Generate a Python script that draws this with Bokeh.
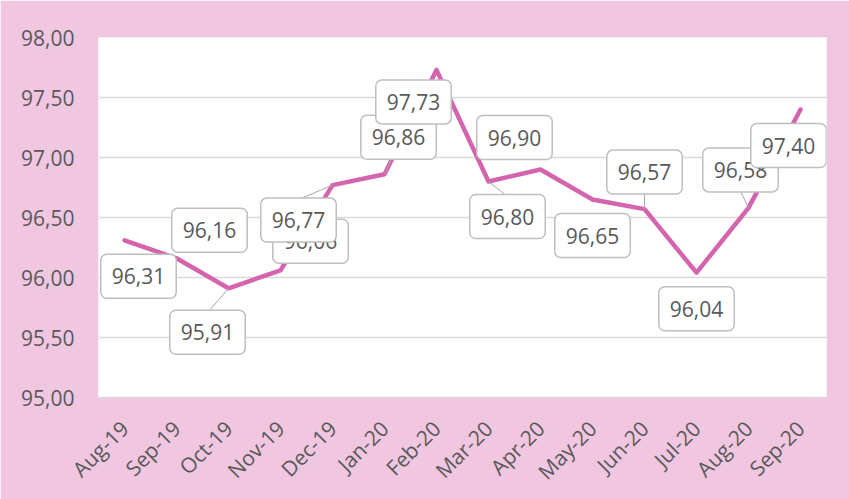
from bokeh.plotting import figure
from bokeh.models import (ColumnDataSource, Range1d, FixedTicker,
                          CustomJSTickFormatter)
from bokeh.embed import file_html
from bokeh.resources import INLINE
from bokeh.core.properties import value
import math

# ---- data ----
months = ["Aug-19", "Sep-19", "Oct-19", "Nov-19", "Dec-19", "Jan-20", "Feb-20",
          "Mar-20", "Apr-20", "May-20", "Jun-20", "Jul-20", "Aug-20", "Sep-20"]
values = [96.31, 96.16, 95.91, 96.06, 96.77, 96.86, 97.73,
          96.80, 96.90, 96.65, 96.57, 96.04, 96.58, 97.40]
y_ticks = [95.0, 95.5, 96.0, 96.5, 97.0, 97.5, 98.0]

# ---- label placement (screen px, +down) : style only ----
label_dx = [14, 33, -21, 30, -34, 14, -23, 19, -26, 0, 0, 0, -8, -12]
label_dy = [36, -28, 44, -29, 35, -37, 32, 35, -32, 36, -37, 36, -38, 36]
# leader lines: index -> (dx, dy) px end offsets
leaders = {2: (-19, 22), 4: (-33, 14), 5: (7, -16), 7: (19, 15), 10: (0, -16), 12: (-8, -17)}

W, H = 849, 499
ML, MR, MT, MB = 98, 23, 37, 102
x_lo, x_hi = -0.5, len(months) - 0.5
y_lo, y_hi = 95.0, 98.0
px_x = (W - ML - MR) / (x_hi - x_lo)
px_y = (H - MT - MB) / (y_hi - y_lo)

PINK = "#F0C6E0"
LINE = "#D564AE"
TXT = "#595959"

p = figure(width=W, height=H, output_backend="svg", toolbar_location=None,
           x_range=Range1d(x_lo, x_hi), y_range=Range1d(y_lo, y_hi),
           min_border_left=ML, min_border_right=MR, min_border_top=MT,
           min_border_bottom=MB)
p.border_fill_color = PINK
p.background_fill_color = "white"
p.outline_line_color = None

xs = list(range(len(months)))
src = ColumnDataSource(dict(
    x=xs, y=values,
    lbl=[f"{v:.2f}".replace(".", ",") for v in values],
    dx=label_dx, dy=label_dy,
))

p.line("x", "y", source=src, line_color=LINE, line_width=4.5,
       line_join="round", line_cap="round")

lx0, ly0, lx1, ly1 = [], [], [], []
for i, (dx, dy) in leaders.items():
    lx0.append(xs[i]); ly0.append(values[i])
    lx1.append(xs[i] + dx / px_x); ly1.append(values[i] - dy / px_y)
p.segment(lx0, ly0, lx1, ly1, line_color="#A6A6A6", line_width=1)

p.text(x="x", y="y", text="lbl", source=src, x_offset="dx", y_offset="dy",
       text_align="center", text_baseline="middle",
       text_font=value("Open Sans"), text_font_size=value("21px"),
       text_color=TXT, background_fill_color="white",
       border_line_color="#BFBFBF", border_line_width=1.5,
       border_radius=6, padding=dict(left=11, right=11, top=14, bottom=14))

# axes
p.xaxis.ticker = FixedTicker(ticks=xs)
p.xaxis.major_label_overrides = {i: m for i, m in enumerate(months)}
p.xaxis.major_label_orientation = math.pi / 4
p.xaxis.major_label_text_font = "Open Sans"
p.xaxis.major_label_text_font_size = "21px"
p.xaxis.major_label_text_color = TXT
p.xaxis.major_label_standoff = 21
p.xaxis.axis_line_color = "#D9D9D9"
p.xaxis.axis_line_width = 1.5
p.xaxis.major_tick_line_color = None
p.xaxis.minor_tick_line_color = None

p.yaxis.ticker = FixedTicker(ticks=y_ticks)
p.yaxis.formatter = CustomJSTickFormatter(code="return tick.toFixed(2).replace('.', ',');")
p.yaxis.major_label_text_font = "Open Sans"
p.yaxis.major_label_text_font_size = "21px"
p.yaxis.major_label_text_color = TXT
p.yaxis.major_label_standoff = 18
p.yaxis.axis_line_color = None
p.yaxis.major_tick_line_color = None
p.yaxis.minor_tick_line_color = None

p.xgrid.grid_line_color = None
p.ygrid.ticker = FixedTicker(ticks=y_ticks)
p.ygrid.grid_line_color = "#D9D9D9"
p.ygrid.grid_line_width = 1.5

open("out.html", "w").write(file_html(p, INLINE))
